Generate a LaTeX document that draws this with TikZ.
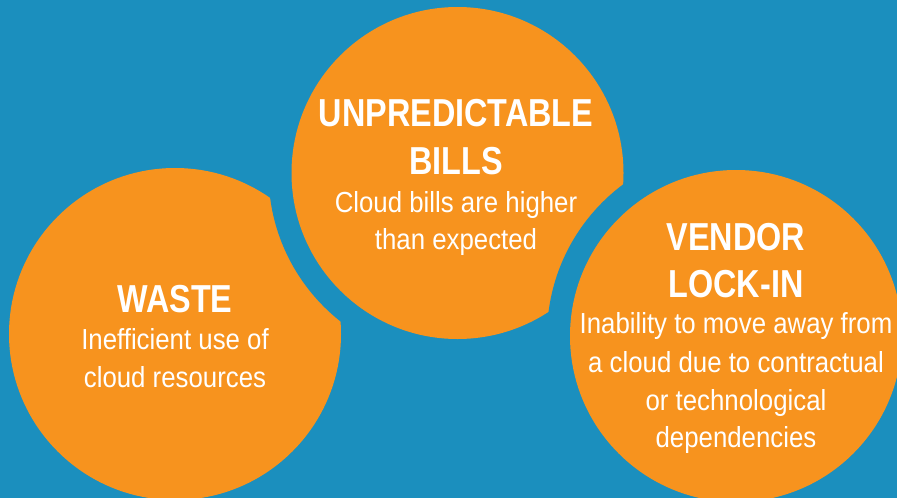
\documentclass[tikz,border=0pt]{standalone}
\usepackage{fontspec}
\newfontfamily\titlefam{Liberation Sans}[FakeStretch=0.83]
\newfontfamily\bodyfam{Liberation Sans}[FakeStretch=0.89]
\definecolor{bgblue}{RGB}{27,143,190}
\definecolor{orng}{RGB}{247,147,30}
\tikzset{
  titletext/.style={anchor=base, inner sep=0pt, text=white, font=\titlefam\bfseries\fontsize{39}{47}\selectfont},
  bodytext/.style={anchor=base, inner sep=0pt, text=white, font=\bodyfam\fontsize{29}{37}\selectfont},
  disc/.style={fill=orng},
  bite/.style={fill=bgblue}
}
\begin{document}
\begin{tikzpicture}[x=1pt,y=-1pt]
\fill[bgblue] (0,0) rectangle (897,498);
\useasboundingbox (0,0) rectangle (897,498);
\clip (0,0) rectangle (897,498);
% left circle
\fill[disc] (175,334) circle[radius=166pt];
% bite of middle into left
\fill[bite] (457.5,173) circle[radius=189pt];
% middle circle
\fill[disc] (457.5,173) circle[radius=166pt];
% bite of right into middle
\fill[bite] (736,336) circle[radius=189pt];
% right circle
\fill[disc] (736,336) circle[radius=166pt];
% texts
\node[titletext] (w1) at (175,312) {WASTE};
\node[bodytext] (w2) at (175,349) {Inefficient use of};
\node[bodytext] (w3) at (175,387) {cloud resources};
\node[titletext] (u1) at (456,126) {UNPREDICTABLE};
\node[titletext] (u2) at (456,174) {BILLS};
\node[bodytext] (u3) at (456,212) {Cloud bills are higher};
\node[bodytext] (u4) at (456,249) {than expected};
\node[titletext] (v1) at (736,250) {VENDOR};
\node[titletext] (v2) at (736,297) {LOCK-IN};
\node[bodytext] (v3) at (736,333) {Inability to move away from};
\node[bodytext] (v4) at (736,372) {a cloud due to contractual};
\node[bodytext] (v5) at (736,410) {or technological};
\node[bodytext] (v6) at (736,447) {dependencies};
\end{tikzpicture}
\end{document}
